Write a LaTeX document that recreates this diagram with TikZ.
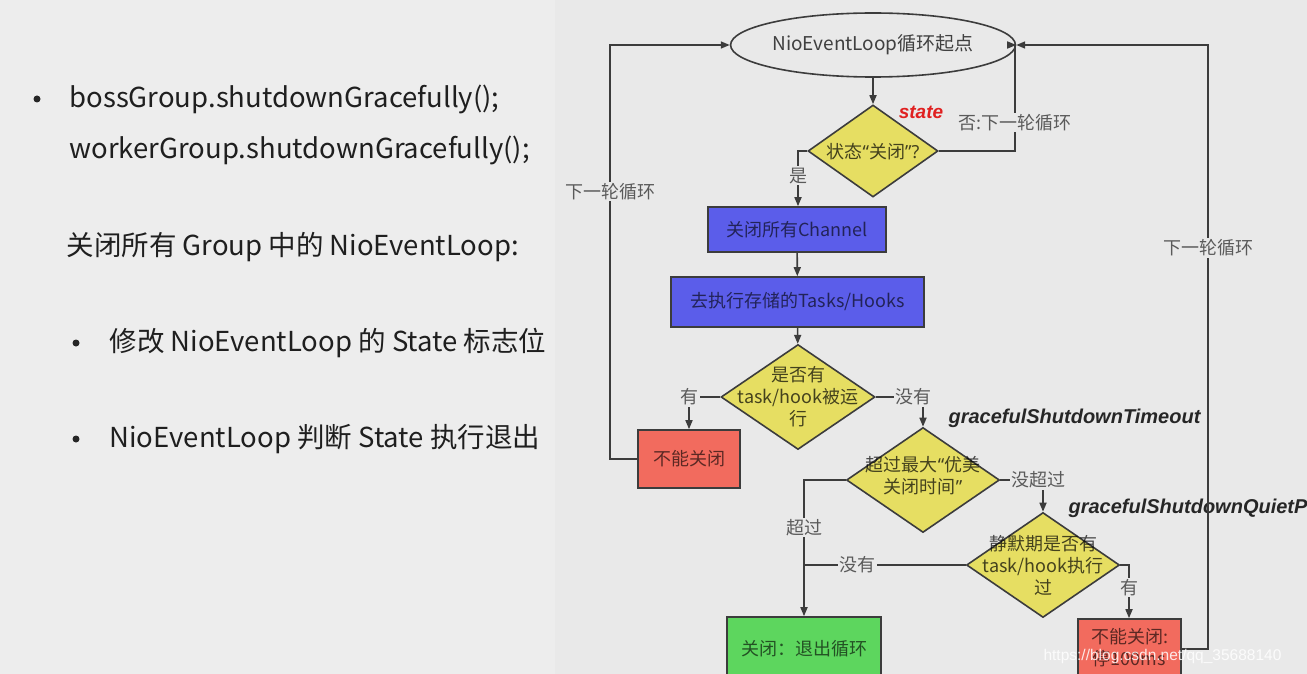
\documentclass[tikz,border=0pt]{standalone}
\usepackage{fontspec}
\setmainfont{Noto Sans CJK SC}
\newfontfamily\bifont{Liberation Sans}
\newfontfamily\latf{Noto Sans}
\usetikzlibrary{shapes.geometric,arrows.meta}
\definecolor{bg}{HTML}{E9E9E9}
\definecolor{panel}{HTML}{EDEDED}
\definecolor{lc}{HTML}{3C3C3C}
\definecolor{lblc}{HTML}{5A5A5A}
\definecolor{yel}{HTML}{E6DE62}
\definecolor{blu}{HTML}{5B5DEA}
\definecolor{rd}{HTML}{F26B5E}
\definecolor{grn}{HTML}{5DD65E}
\definecolor{redtxt}{HTML}{E02020}
\tikzset{
  ln/.style={draw=lc, line width=1.6pt},
  arr/.style={ln, -{Triangle[length=9pt,width=7pt]}},
  boxs/.style={draw=lc, line width=1.6pt, inner sep=0pt, text=black, text opacity=0.62,
     font=\fontsize{18}{22}\selectfont, align=center},
  dia/.style={diamond, draw=lc, line width=1.6pt, fill=yel, inner sep=0pt},
  diatxt/.style={font=\fontsize{18}{22}\selectfont, align=center, text=black, text opacity=0.7},
  lbl/.style={fill=bg, inner sep=1.5pt, text=lblc, font=\fontsize{18}{22}\selectfont},
  gname/.style={font=\bifont\bfseries\itshape\fontsize{20}{22}\selectfont, text=black!85, anchor=west},
  lt/.style={font=\fontsize{27.5}{30}\selectfont, text=black!88, anchor=west},
  bul/.style={circle, fill=black!85, inner sep=0pt, minimum size=7pt}
}
\begin{document}
\begin{tikzpicture}[x=1pt,y=-1pt]
\useasboundingbox (0,0) rectangle (1307,674);
\fill[bg] (0,0) rectangle (1307,674);
\fill[panel] (0,0) rectangle (555,674);

% left text
\node[bul] (b1) at (37,99) {};
\node[lt] (t1) at (66,99) {bossGroup.shutdownGracefully();};
\node[lt] (t2) at (66,150) {workerGroup.shutdownGracefully();};
\node[lt] (t3) at (63,247) {关闭所有 Group 中的 NioEventLoop:};
\node[bul] (b2) at (76,343) {};
\node[lt] (t4) at (106,343) {修改 NioEventLoop 的 State 标志位};
\node[bul] (b3) at (76,439) {};
\node[lt] (t5) at (106,439) {NioEventLoop 判断 State 执行退出};

% flowchart nodes
\node[ellipse, draw=lc, line width=1.6pt, minimum width=231pt, minimum height=64pt, inner sep=0pt,
      font=\fontsize{19}{22}\selectfont, text=black!75] (ell) at (873,45) {NioEventLoop循环起点};

\node[dia, minimum width=130pt, minimum height=92pt] (d1) at (873,151) {};
\node[diatxt] (d1t) at (873,152) {状态{\latf“}关闭{\latf”?}};
\node[font=\bifont\bfseries\itshape\fontsize{19}{22}\selectfont, text=redtxt] (st) at (921,112) {state};

\node[boxs, fill=blu, minimum width=178pt, minimum height=45pt] (b1x) at (797,229.5) {关闭所有Channel};
\node[boxs, fill=blu, minimum width=253pt, minimum height=50pt] (b2x) at (797.5,302) {去执行存储的Tasks/Hooks};

\node[dia, minimum width=154pt, minimum height=105pt] (d2) at (798,397) {};
\node[diatxt] (d2t) at (d2) {是否有\\task/hook被运\\行};

\node[boxs, fill=rd, minimum width=102pt, minimum height=58pt] (r1) at (689,459) {不能关闭};

\node[dia, minimum width=153pt, minimum height=105pt] (d3) at (923,480) {};
\node[diatxt] (d3t) at (923,476) {超过最大{\latf“}优美\\关闭时间{\latf”}};
\node[gname] (g1) at (945,418) {gracefulShutdownTimeout};

\node[dia, minimum width=153pt, minimum height=105pt] (d4) at (1043,565) {};
\node[diatxt] (d4t) at (d4) {静默期是否有\\task/hook执行\\过};
\node[gname] (g2) at (1065,508) {gracefulShutdownQuietPeriod};

\node[boxs, fill=grn, minimum width=154pt, minimum height=64pt] (gx) at (804,649) {};
\node[diatxt, text opacity=0.62] (gxt) at (804,649) {关闭：退出循环};

\node[boxs, fill=rd, minimum width=103pt, minimum height=62pt] (r2) at (1129.5,650) {};
\node[diatxt, text opacity=0.62] (r2t) at (1129.5,648) {不能关闭:\\停100ms};

% corner coordinates
\coordinate (c1) at (1015,151);
\coordinate (c2) at (798,151);
\coordinate (c3) at (689,397);
\coordinate (c4) at (610,459);
\coordinate (c5) at (923,397);
\coordinate (c6) at (1043,480);
\coordinate (c7) at (804,480);
\coordinate (c8) at (804,565);
\coordinate (c9) at (1129,565);
\coordinate (c10) at (1208,649);

% connectors
\draw[arr] (ell) -- (d1);
\draw[arr] (d1.east) -- (c1) -- node[lbl, pos=0.27]{否:下一轮循环} (c1|-ell.east) -- (ell.east);
\draw[arr] (d1.west) -- (c2) -- node[lbl, pos=0.45]{是} (c2|-b1x.north);
\draw[arr] (b1x) -- (b2x);
\draw[arr] (b2x) -- (d2);
\draw[arr] (d2.west) -- (c3) -- (c3|-r1.north);
\node[lbl] (l1) at (c3) {有};
\draw[arr] (r1.west) -- (c4) -- node[lbl, pos=0.646]{下一轮循环} (c4|-ell.west) -- (ell.west);
\draw[arr] (d2.east) -- (c5) -- (d3.north);
\node[lbl, xshift=-10pt] (l2) at (c5) {没有};
\draw[arr] (d3.east) -- (c6) -- (d4.north);
\node[lbl, xshift=-5pt] (l3) at (c6) {没超过};
\draw[arr] (d3.west) -- (c7) -- node[lbl, pos=0.35]{超过} (c7|-gx.north);
\draw[ln] (d4.west) -- node[lbl, pos=0.67]{没有} (c8);
\draw[arr] (d4.east) -- (c9) -- node[lbl, pos=0.42]{有} (c9|-r2.north);
\draw[arr] (r2.east|-c10) -- (c10) -- node[lbl, pos=0.664]{下一轮循环} (c10|-ell.east) -- (ell.east);

% watermark
\node[font=\bifont\fontsize{15.5}{18}\selectfont, text=white, text opacity=0.85, anchor=west] (wm) at (1040,656) {https://blog.csdn.net/qq\_35688140};
\end{tikzpicture}
\end{document}
